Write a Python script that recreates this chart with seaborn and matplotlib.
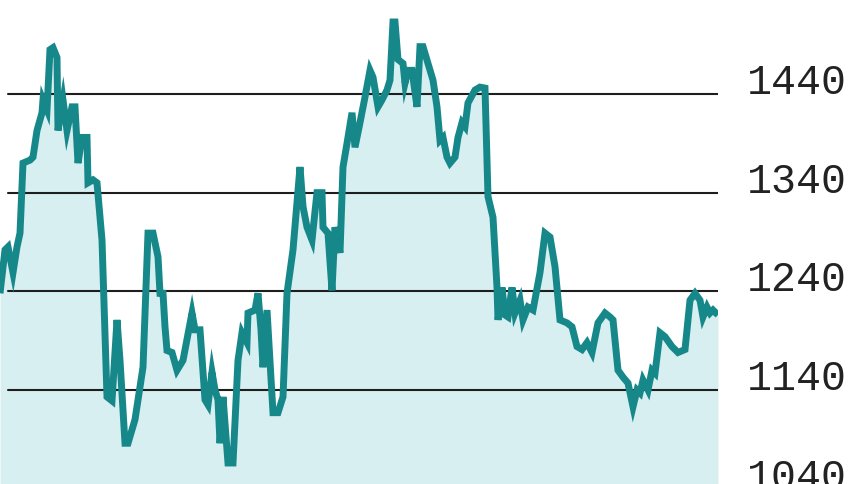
import numpy as np
import pandas as pd
import matplotlib
matplotlib.use("Agg")
import matplotlib.pyplot as plt
import matplotlib.transforms as mtransforms
import seaborn as sns

# --- data (trading-day position, index level) ---
days = [0, 5, 8, 13, 17, 20, 23, 30, 33, 37, 42, 43, 47, 50, 53, 57, 58, 63, 67, 72,
        75, 78, 82, 87, 88, 93, 97, 102, 107, 112, 117, 120, 125, 128, 135, 143, 148,
        153, 158, 160, 163, 165, 167, 172, 177, 183, 192, 195, 200, 205, 208, 212, 215,
        218, 220, 223, 228, 233, 238, 242, 247, 248, 255, 258, 261, 263, 267, 273, 278,
        283, 287, 293, 300, 303, 307, 312, 317, 322, 323, 328, 332, 335, 340, 343, 347,
        352, 355, 360, 365, 370, 373, 378, 382, 387, 390, 393, 395, 398, 403, 405, 408,
        412, 417, 420, 423, 428, 433, 437, 440, 443, 447, 450, 455, 458, 462, 465, 468,
        475, 480, 485, 488, 493, 497, 498, 502, 505, 508, 512, 515, 520, 523, 528, 533,
        540, 545, 550, 555, 560, 567, 572, 577, 582, 587, 592, 598, 605, 610, 613, 618,
        623, 628, 633, 637, 640, 643, 648, 652, 655, 660, 665, 672, 678, 685, 690, 695,
        700, 703, 707, 710, 713, 718]
price = [1238, 1282, 1285, 1259, 1285, 1299, 1370, 1373, 1376, 1403, 1421, 1434, 1424,
         1485, 1487, 1477, 1403, 1434, 1403, 1427, 1427, 1370, 1396, 1396, 1350, 1353,
         1350, 1292, 1133, 1129, 1211, 1170, 1086, 1086, 1110, 1163, 1299, 1299, 1275,
         1238, 1238, 1204, 1180, 1178, 1160, 1170, 1218, 1201, 1201, 1130, 1125, 1158,
         1140, 1130, 1086, 1133, 1066, 1066, 1170, 1198, 1188, 1218, 1221, 1238, 1201,
         1163, 1221, 1117, 1117, 1133, 1238, 1282, 1366, 1326, 1305, 1292, 1340, 1340,
         1305, 1299, 1241, 1305, 1279, 1366, 1390, 1421, 1386, 1411, 1437, 1464, 1457,
         1427, 1434, 1444, 1454, 1513, 1513, 1475, 1471, 1451, 1464, 1464, 1427, 1488,
         1488, 1471, 1454, 1427, 1393, 1396, 1376, 1370, 1376, 1396, 1411, 1407, 1431,
         1444, 1447, 1446, 1336, 1315, 1244, 1211, 1244, 1216, 1214, 1244, 1218, 1231,
         1211, 1224, 1221, 1259, 1299, 1295, 1265, 1211, 1208, 1204, 1184, 1181, 1188,
         1178, 1208, 1218, 1214, 1211, 1160, 1153, 1147, 1123, 1140, 1137, 1150, 1140,
         1160, 1157, 1198, 1194, 1184, 1178, 1181, 1231, 1238, 1231, 1214, 1224, 1218,
         1221, 1216]
tick_values = [1040, 1140, 1240, 1340, 1440, 1540]
tick_labels = ["1040", "1140", "1240", "1340", "1440", "1540"]

LINE = "#17888a"
FILL = "#d8eff1"
Y_LO, Y_HI = 1044.7, 1535.3
X_HI = 718

df = pd.DataFrame({"day": days, "price": price})

sns.set_style("white")
fig = plt.figure(figsize=(8.6, 4.84), dpi=100)
ax = fig.add_axes([0, 0, X_HI / 860, 1])

ax.fill_between(df["day"], df["price"], Y_LO, color=FILL, lw=0, zorder=1)
for v in tick_values[1:-1]:
    ax.axhline(v, xmin=8 / X_HI, xmax=1, color="#1e1e1e", lw=1.5, zorder=2)
sns.lineplot(data=df, x="day", y="price", ax=ax, color=LINE, linewidth=5,
             zorder=3, solid_joinstyle="miter", solid_capstyle="butt")

ax.set_xlim(0, X_HI)
ax.set_ylim(Y_LO, Y_HI)
ax.set_axis_off()

trans = mtransforms.blended_transform_factory(ax.transAxes, ax.transData)
for v, lab in zip(tick_values, tick_labels):
    ax.text(747 / X_HI, v, lab, transform=trans, ha="left", va="baseline",
            family=["Liberation Mono", "DejaVu Sans Mono"], fontsize=30,
            color="#222222", clip_on=False)

fig.savefig("out.png", dpi=100, facecolor="white")
